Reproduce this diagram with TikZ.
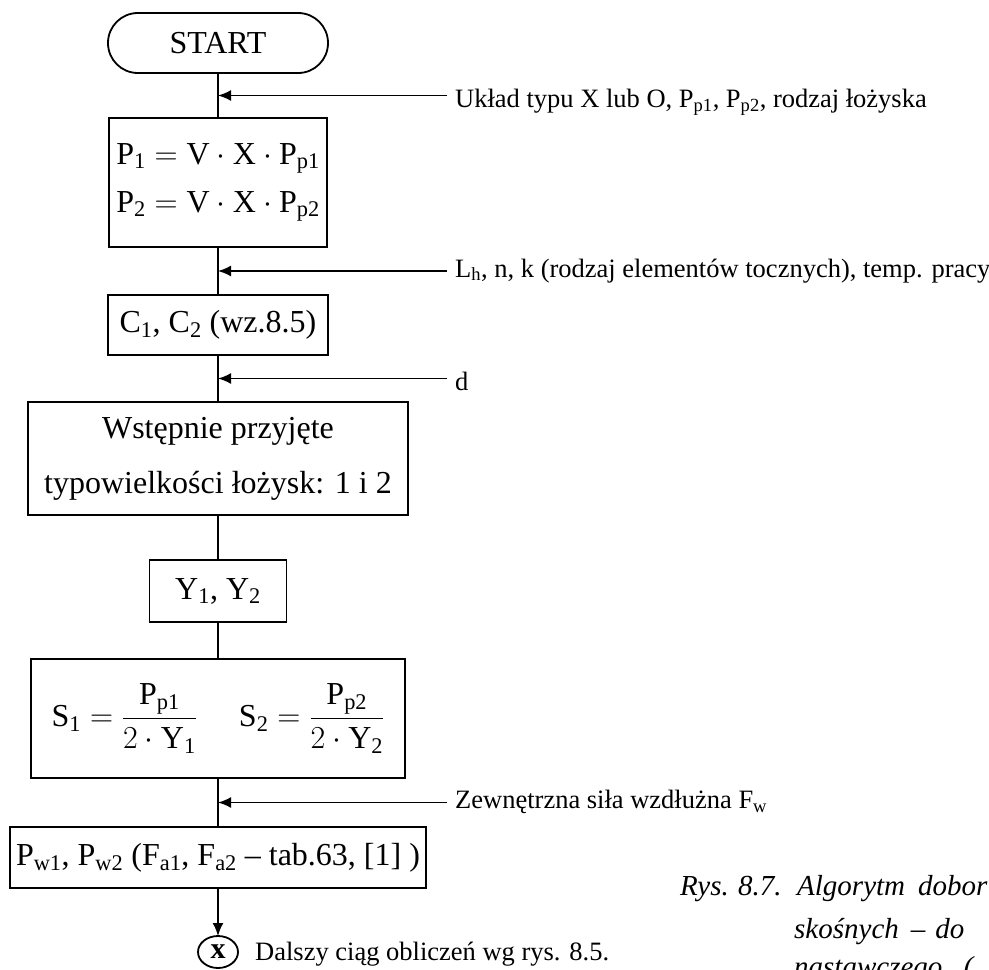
\RequirePackage{fix-cm}
\documentclass[tikz,border=0pt]{standalone}
\usepackage{amsmath}
\usepackage{fontspec}
\setmainfont{Liberation Serif}
\usetikzlibrary{arrows.meta, positioning, shapes.geometric, calc}
\newcommand{\ms}[2]{\text{#1}_{\text{#2}}}

\begin{document}
\begin{tikzpicture}[
  x=1pt, y=1pt,
  box/.style={draw, line width=1.8pt, inner sep=0pt, outer sep=0pt,
              font=\fontsize{32}{48}\selectfont, align=center},
  flow/.style={line width=1.8pt},
  inarr/.style={line width=1.8pt, -{Latex[length=13pt, width=11pt]}},
  ann/.style={font=\fontsize{26.5}{30}\selectfont, anchor=base west, inner sep=0pt},
  captxt/.style={font=\fontsize{29}{43}\selectfont\itshape, anchor=base west, inner sep=0pt}
]
\useasboundingbox (0,0) rectangle (989,-970);

\node[box, rounded corners=29.9pt, minimum width=220pt, minimum height=60pt]
      (start) at (218,-43) {START};
\node[box, below=45pt of start, minimum width=218pt, minimum height=129pt]
      (pbox) {$\ms{P}{1} = \text{V}\cdot\text{X}\cdot\ms{P}{p1}$\\
              $\ms{P}{2} = \text{V}\cdot\text{X}\cdot\ms{P}{p2}$};
\node[box, below=48pt of pbox, minimum width=220pt, minimum height=60pt]
      (cbox) {C\textsubscript{1}, C\textsubscript{2} (wz.8.5)};
\node[box, below=47pt of cbox, minimum width=380pt, minimum height=113pt,
      font=\fontsize{32}{55}\selectfont]
      (wbox) {Wstępnie przyjęte\\typowielkości łożysk: 1 i 2};
\node[box, below=45pt of wbox, minimum width=137pt, minimum height=62pt]
      (ybox) {Y\textsubscript{1}, Y\textsubscript{2}};
\node[box, below=37pt of ybox, minimum width=374pt, minimum height=119pt]
      (sbox) {$\ms{S}{1} = \dfrac{\ms{P}{p1}}{2\cdot\ms{Y}{1}}$\hspace{42pt}%
              $\ms{S}{2} = \dfrac{\ms{P}{p2}}{2\cdot\ms{Y}{2}}$};
\node[box, below=49pt of sbox, minimum width=416pt, minimum height=61pt]
      (pwbox) {P\textsubscript{w1}, P\textsubscript{w2} (F\textsubscript{a1},
               F\textsubscript{a2} -- tab.63, [1] )};
\node[draw, ellipse, line width=1.8pt, inner sep=0pt, outer sep=0pt,
      minimum width=40pt, minimum height=32pt,
      font=\fontsize{30}{30}\selectfont\bfseries, below=48pt of pwbox]
      (xcon) {x};

% main flow
\draw[flow] (start) -- (pbox);
\draw[flow] (pbox) -- (cbox);
\draw[flow] (cbox) -- (wbox);
\draw[flow] (wbox) -- (ybox);
\draw[flow] (ybox) -- (sbox);
\draw[flow] (sbox) -- (pwbox);
\draw[inarr] (pwbox) -- (xcon);

% inputs
\path (start.south) -- (pbox.north) coordinate[midway] (m1);
\path (pbox.south) -- (cbox.north) coordinate[midway] (m2);
\path (cbox.south) -- (wbox.north) coordinate[midway] (m3);
\path (sbox.south) -- (pwbox.north) coordinate[midway] (m4);
\coordinate (u1) at ([xshift=229pt]m1);
\coordinate (u2) at ([xshift=229pt]m2);
\coordinate (u3) at ([xshift=229pt]m3);
\coordinate (u4) at ([xshift=229pt]m4);
\draw[inarr] (u1) -- (m1);
\draw[inarr] (u2) -- (m2);
\draw[inarr] (u3) -- (m3);
\draw[inarr] (u4) -- (m4);

\node[ann] (in1) at ([xshift=8pt, yshift=-12pt]u1)
  {Układ typu X lub O, P\textsubscript{p1}, P\textsubscript{p2}, rodzaj łożyska};
\node[ann] (in2) at ([xshift=8pt, yshift=-6pt]u2)
  {L\textsubscript{h}, n, k (rodzaj elementów tocznych), temp. pracy};
\node[ann] (in3) at ([xshift=8pt, yshift=-12pt]u3) {d};
\node[ann] (in4) at ([xshift=8pt, yshift=-6pt]u4)
  {Zewnętrzna siła wzdłużna F\textsubscript{w}};
\node[ann] (next) at ([xshift=17pt, yshift=-8pt]xcon.east)
  {Dalszy ciąg obliczeń wg rys. 8.5.};

% caption (cut by the page edge)
\node[captxt] (rys)  at (680,-895) {Rys.};
\node[captxt] (num)  at (738,-895) {8.7.};
\node[captxt] (cap1) at (797,-895) {Algorytm\hspace{13pt}dobor};
\node[captxt] (cap2) at (794,-938) {skośnych\hspace{12pt}--\hspace{10pt}do};
\node[captxt] (cap3) at (794,-976) {nastawczego.\hspace{14pt}(};
\end{tikzpicture}
\end{document}
